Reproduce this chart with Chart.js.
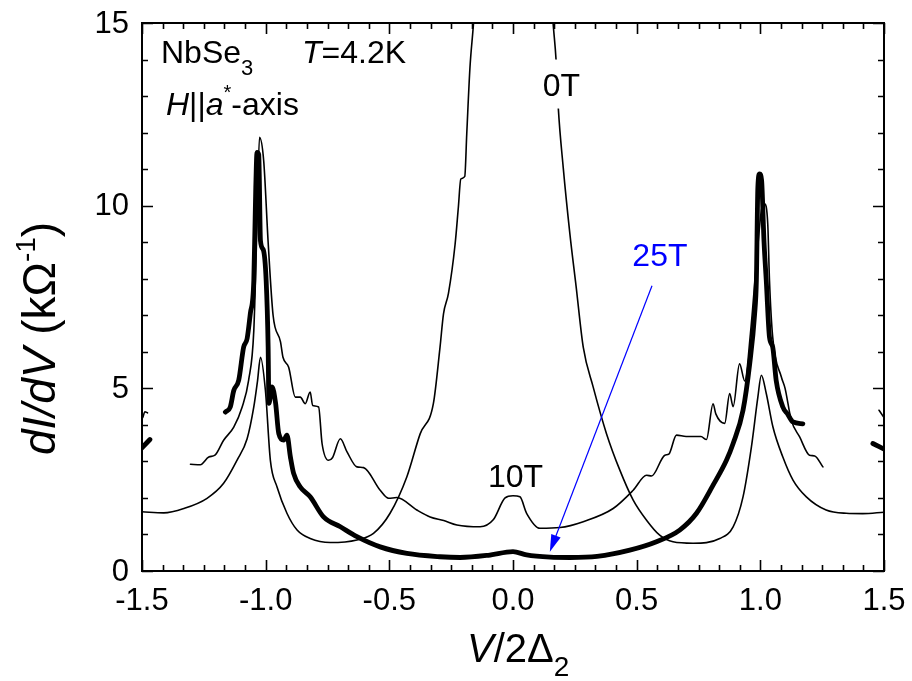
<!DOCTYPE html>
<html>
<head>
<meta charset="utf-8">
<script src="https://cdn.jsdelivr.net/npm/chart.js@4"></script>
<style>
  html, body { margin: 0; padding: 0; background: #fff; }
</style>
</head>
<body>
<canvas id="chart" width="912" height="681"></canvas>
<script>
// data (V/2Δ2, dI/dV in kΩ^-1), null = gap in the curve
const v0T = [-1.5, -1.412, -1.331, -1.237, -1.17, -1.116, -1.075, -1.048, -1.033, -1.021, -1.001, -0.981, -0.954, -0.914,
  -0.873, -0.82, -0.739, -0.631, -0.564, -0.497, -0.429, -0.375, -0.322, -0.295, -0.281, -0.261, -0.234, -0.221, -0.211,
  -0.195, -0.187, -0.174, -0.16, -0.14, 0.0, 0.14, 0.163, 0.174, 0.183, 0.203, 0.23, 0.255, 0.284, 0.324, 0.378, 0.432,
  0.486, 0.54, 0.593, 0.647, 0.728, 0.836, 0.89, 0.93, 0.964, 0.99, 1.004, 1.024, 1.051, 1.091, 1.132, 1.186, 1.266,
  1.347, 1.414, 1.5];
const g0T = [1.62, 1.59, 1.71, 1.99, 2.4, 3.03, 3.62, 4.49, 5.2, 5.85, 4.94, 3.03, 2.3, 1.58,
  1.12, 0.89, 0.78, 0.85, 1.03, 1.58, 2.58, 3.76, 4.58, 6.13, 7.04, 7.6, 8.95, 9.95, 10.73,
  10.8, 11.96, 13.78, 14.96, 17, 24, 17, 14.92, 14.0, 12.69, 11.05, 9.23, 7.8, 6.13, 5.04, 3.76, 2.76,
  1.94, 1.39, 0.98, 0.8, 0.76, 0.89, 1.21, 2.03, 3.4, 4.76, 5.36, 4.86, 3.94, 3.12, 2.49, 2.03, 1.67,
  1.58, 1.57, 1.61];

const v10T = [-1.497, -1.488, -1.478, -1.4, -1.304, -1.264, -1.23, -1.205, -1.17, -1.129, -1.095, -1.069, -1.048, -1.035,
  -1.025, -1.008, -0.99, -0.97, -0.94, -0.93, -0.907, -0.88, -0.86, -0.84, -0.82, -0.81, -0.786, -0.772, -0.746,
  -0.73, -0.698, -0.671, -0.631, -0.604, -0.537, -0.503, -0.47, -0.389, -0.335, -0.28, -0.227, -0.133, -0.08,
  -0.032, 0.0, 0.028, 0.055, 0.109, 0.19, 0.284, 0.405, 0.486, 0.54, 0.56, 0.614, 0.63, 0.661, 0.7, 0.76, 0.782,
  0.809, 0.82, 0.856, 0.876, 0.89, 0.916, 0.937, 0.96, 0.985, 1.005, 1.017, 1.03, 1.037, 1.05, 1.085, 1.1, 1.125,
  1.159, 1.199, 1.22, 1.253, 1.4, 1.48, 1.5];
const g10T = [4.2, 4.36, 4.33, null, 2.92, 2.91, 3.12, 3.17, 3.58, 3.94, 4.49, 5.22, 6.58, 9.5,
  11.87, 11.23, 9.0, 7.0, 6.27, 5.85, 5.58, 4.76, 4.76, 4.58, 4.9, 4.53, 4.49, 3.49, 3.03,
  3.1, 3.62, 3.26, 2.85, 2.83, 2.21, 1.99, 2.01, 1.67, 1.48, 1.38, 1.26, 1.21, 1.4,
  2.0, 2.06, 2.03, 1.58, 1.17, 1.19, 1.35, 1.71, 2.21, 2.62, 2.6, 3.17, 3.2, 3.72, 3.68, 3.68, 3.6,
  4.58, 4.3, 4.04, 4.86, 4.5, 5.67, 5.2, 6.5, 8.5, 9.9, 10.05, 9.5, 7.95, 6.4, 5.31, 5.0, 4.13,
  3.67, 3.17, 3.15, 2.85, null, 4.4, 4.2];

const v25T = [-1.51, -1.468, -1.3, -1.163, -1.143, -1.129, -1.109, -1.089, -1.075, -1.062, -1.048, -1.04, -1.035, -1.028,
  -1.021, -1.01, -0.998, -0.99, -0.987, -0.974, -0.96, -0.947, -0.927, -0.914, -0.9, -0.887, -0.86, -0.82, -0.766,
  -0.698, -0.631, -0.537, -0.429, -0.295, -0.214, -0.1, 0.0, 0.055, 0.15, 0.23, 0.34, 0.472, 0.58, 0.674, 0.742,
  0.809, 0.863, 0.89, 0.93, 0.957, 0.977, 0.984, 0.99, 0.997, 1.005, 1.015, 1.024, 1.037, 1.05, 1.064, 1.091, 1.11,
  1.132, 1.172, 1.3, 1.455, 1.51];
const g25T = [3.3, 3.6, null, 4.35, 4.49, 4.94, 5.22, 6.13, 6.36, 7.05, 7.95, 10.5, 11.46, 11.4,
  9.04, 8.8, 7.95, 6.13, 4.59, 5.04, 4.6, 3.76, 3.58, 3.72, 3.12, 2.67, 2.3, 2.03, 1.48,
  1.21, 0.94, 0.66, 0.48, 0.39, 0.37, 0.43, 0.53, 0.44, 0.38, 0.37, 0.4, 0.57, 0.8, 1.12, 1.58,
  2.35, 3.03, 3.49, 4.4, 5.67, 7.04, 7.95, 10.5, 10.87, 10.7, 9.0, 7.95, 6.4, 6.13, 5.22, 4.49, 4.3,
  4.08, 4.03, null, 3.49, 3.3];

const xTicks = [-1.5, -1.0, -0.5, 0.0, 0.5, 1.0, 1.5];
const yTicks = [0, 5, 10, 15];

const FONT = '"Liberation Sans", Arial, sans-serif';

function pts(xs, ys) {
  return xs.map((x, i) => ({ x: x, y: ys[i] }));
}

// draw a row of text pieces, each with its own style / size / vertical shift
function drawRuns(ctx, runs, x, y) {
  runs.forEach(r => {
    ctx.font = (r.italic ? 'italic ' : '') + r.size + 'px ' + FONT;
    if (r.at !== undefined) x = r.at;
    ctx.fillText(r.t, x, y + (r.dy || 0));
    x += ctx.measureText(r.t).width;
  });
}

const decor = {
  id: 'decor',
  afterDatasetsDraw(chart) {
    const { ctx, chartArea: a, scales } = chart;
    const sx = scales.x, sy = scales.y;
    ctx.save();

    // gap in the 0T curve behind its label
    ctx.fillStyle = '#fff';
    ctx.fillRect(sx.getPixelForValue(0.11), sy.getPixelForValue(14.0), 44, 49);

    // frame
    ctx.strokeStyle = '#000';
    ctx.lineWidth = 2;
    ctx.strokeRect(a.left, a.top, a.right - a.left, a.bottom - a.top);

    // inward ticks on all four sides
    ctx.lineWidth = 1.6;
    ctx.beginPath();
    for (let i = 0; i <= 36; i++) {
      const px = Math.round(sx.getPixelForValue(-1.5 + i / 12)) + 0.5;
      const len = i % 6 === 0 ? 11 : 6;
      ctx.moveTo(px, a.bottom); ctx.lineTo(px, a.bottom - len);
      ctx.moveTo(px, a.top); ctx.lineTo(px, a.top + len);
    }
    for (let j = 0; j <= 15; j++) {
      const py = Math.round(sy.getPixelForValue(j)) + 0.5;
      const len = j % 5 === 0 ? 11 : 6;
      ctx.moveTo(a.left, py); ctx.lineTo(a.left + len, py);
      ctx.moveTo(a.right, py); ctx.lineTo(a.right - len, py);
    }
    ctx.stroke();

    // tick labels
    ctx.fillStyle = '#000';
    ctx.font = '31px ' + FONT;
    ctx.textAlign = 'center';
    ctx.textBaseline = 'alphabetic';
    xTicks.forEach(v => ctx.fillText(v.toFixed(1), sx.getPixelForValue(v), a.bottom + 39));
    ctx.textAlign = 'right';
    ctx.textBaseline = 'middle';
    yTicks.forEach(v => ctx.fillText(String(v), a.left - 13, sy.getPixelForValue(v) + 1));

    // axis titles
    ctx.textAlign = 'left';
    ctx.textBaseline = 'alphabetic';
    drawRuns(ctx, [
      { t: 'V', italic: true, size: 40 },
      { t: '/2Δ', size: 40 },
      { t: '2', size: 28, dy: 14 }
    ], 467, 662);

    ctx.save();
    ctx.translate(55, 455);
    ctx.rotate(-Math.PI / 2);
    drawRuns(ctx, [
      { t: 'dI/dV', italic: true, size: 46 },
      { t: ' (kΩ', size: 46 },
      { t: '-1', size: 28, dy: -20 },
      { t: ')', size: 46 }
    ], 0, 0);
    ctx.restore();

    // sample / field labels
    drawRuns(ctx, [
      { t: 'NbSe', size: 32 },
      { t: '3', size: 22, dy: 12 },
      { t: 'T', italic: true, size: 32, at: 302 },
      { t: '=4.2K', size: 32 }
    ], 161, 63);
    drawRuns(ctx, [
      { t: 'H', italic: true, size: 32 },
      { t: '||', size: 32 },
      { t: 'a', italic: true, size: 32 },
      { t: '*', size: 20, dy: -16 },
      { t: '-axis', size: 32 }
    ], 166, 115);

    ctx.font = '32px ' + FONT;
    ctx.textAlign = 'center';
    ctx.fillText('0T', sx.getPixelForValue(0.196), sy.getPixelForValue(13.0));
    ctx.fillText('10T', sx.getPixelForValue(0.01), sy.getPixelForValue(2.3));
    ctx.fillStyle = '#0000ff';
    ctx.fillText('25T', sx.getPixelForValue(0.594), sy.getPixelForValue(8.35));

    // blue arrow pointing at the 25T curve
    const x0 = sx.getPixelForValue(0.562), y0 = sy.getPixelForValue(7.81);
    const x1 = sx.getPixelForValue(0.149), y1 = sy.getPixelForValue(0.53);
    const ang = Math.atan2(y1 - y0, x1 - x0);
    ctx.strokeStyle = '#0000ff';
    ctx.lineWidth = 1.2;
    ctx.beginPath();
    ctx.moveTo(x0, y0);
    ctx.lineTo(x1 - 12 * Math.cos(ang), y1 - 12 * Math.sin(ang));
    ctx.stroke();
    ctx.beginPath();
    ctx.moveTo(x1, y1);
    ctx.lineTo(x1 - 17 * Math.cos(ang) + 5 * Math.sin(ang), y1 - 17 * Math.sin(ang) - 5 * Math.cos(ang));
    ctx.lineTo(x1 - 17 * Math.cos(ang) - 5 * Math.sin(ang), y1 - 17 * Math.sin(ang) + 5 * Math.cos(ang));
    ctx.closePath();
    ctx.fill();

    ctx.restore();
  }
};

const ctx = document.getElementById('chart');
new Chart(ctx, {
  type: 'line',
  data: {
    datasets: [
      { label: '25T', data: pts(v25T, g25T), borderColor: '#000', borderWidth: 4.8 },
      { label: '10T', data: pts(v10T, g10T), borderColor: '#000', borderWidth: 1.6 },
      { label: '0T', data: pts(v0T, g0T), borderColor: '#000', borderWidth: 1.6 }
    ]
  },
  options: {
    responsive: false,
    animation: false,
    spanGaps: false,
    layout: { padding: { left: 142, right: 28, top: 23, bottom: 110 } },
    elements: {
      point: { radius: 0 },
      line: { cubicInterpolationMode: 'monotone', borderJoinStyle: 'round', borderCapStyle: 'round' }
    },
    plugins: { legend: { display: false }, tooltip: { enabled: false } },
    scales: {
      x: { type: 'linear', min: -1.5, max: 1.5, display: false },
      y: { type: 'linear', min: 0, max: 15, display: false }
    }
  },
  plugins: [decor]
});
</script>
</body>
</html>
